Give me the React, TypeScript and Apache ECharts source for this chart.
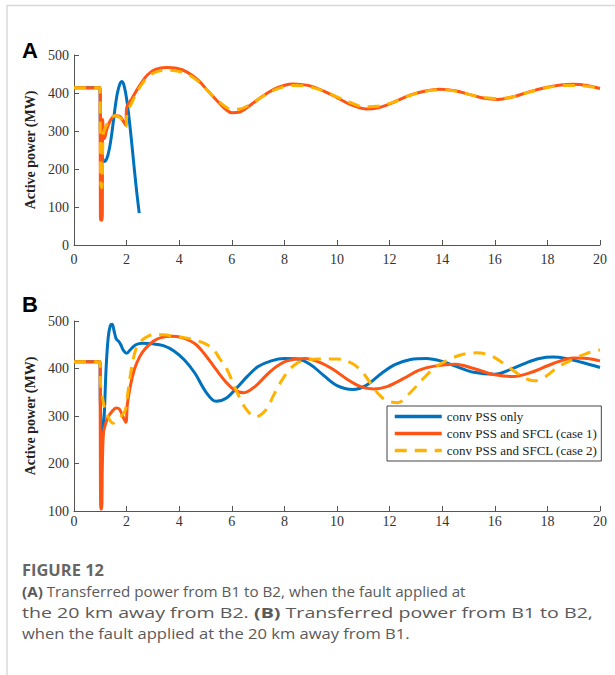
import React, { useEffect, useRef } from "react";
import * as echarts from "echarts";

// ---------- data ----------
const seriesNames = ["conv PSS only", "conv PSS and SFCL (case 1)", "conv PSS and SFCL (case 2)"];
const xTicks = [0, 2, 4, 6, 8, 10, 12, 14, 16, 18, 20];

const aBlue: number[][] = [
  [0, 414], [0.99, 414], [1.0, 300], [1.03, 240], [1.1, 225], [1.15, 220], [1.25, 228], [1.35, 255],
  [1.45, 300], [1.55, 355], [1.65, 400], [1.75, 425], [1.82, 430], [1.9, 420], [2.0, 385], [2.1, 330],
  [2.2, 265], [2.3, 195], [2.4, 130], [2.48, 84],
];
const aOrange: number[][] = [
  [0, 414], [0.99, 414], [1.0, 200], [1.01, 66], [1.07, 66], [1.09, 330], [1.12, 290], [1.15, 280],
  [1.25, 305], [1.4, 330], [1.6, 340], [1.75, 338], [1.88, 325], [1.97, 315], [2.0, 360], [2.2, 385],
  [2.5, 420], [2.8, 448], [3.1, 462], [3.5, 467], [3.9, 465], [4.3, 455], [4.7, 435], [5.1, 405],
  [5.5, 375], [5.8, 355], [6.0, 348], [6.3, 350], [6.7, 368], [7.2, 393], [7.7, 413], [8.3, 424],
  [8.9, 420], [9.5, 405], [10.0, 388], [10.5, 370], [11.1, 358], [11.6, 362], [12.2, 377], [12.8, 395],
  [13.4, 406], [13.9, 410], [14.5, 406], [15.1, 395], [15.6, 386], [16.1, 383], [16.7, 390], [17.3, 403],
  [17.9, 414], [18.5, 421], [19.0, 423], [19.5, 420], [20, 412],
];
const aYellow: number[][] = [
  [0, 414], [0.99, 414], [1.0, 300], [1.02, 160], [1.06, 150], [1.09, 250], [1.12, 295], [1.2, 310],
  [1.35, 330], [1.55, 340], [1.75, 335], [1.9, 320], [1.97, 310], [2.02, 345], [2.2, 375], [2.5, 415],
  [2.8, 442], [3.1, 455], [3.5, 460], [3.9, 458], [4.3, 450], [4.7, 432], [5.1, 405], [5.5, 378],
  [5.8, 362], [6.0, 357], [6.3, 358], [6.7, 370], [7.2, 392], [7.7, 410], [8.3, 420], [8.9, 417],
  [9.5, 405], [10.0, 390], [10.5, 375], [11.0, 364], [11.5, 365], [12.2, 377], [12.8, 394], [13.4, 405],
  [13.9, 408], [14.5, 405], [15.1, 395], [15.6, 388], [16.1, 385], [16.7, 390], [17.3, 402], [17.9, 413],
  [18.5, 419], [19.0, 420], [19.5, 418], [20, 413],
];

const bBlue: number[][] = [
  [0, 414], [0.99, 414], [1.0, 330], [1.05, 270], [1.1, 260], [1.15, 300], [1.22, 400], [1.3, 465],
  [1.38, 490], [1.45, 493], [1.52, 480], [1.6, 463], [1.7, 457], [1.78, 450], [1.88, 438], [2.0, 432],
  [2.15, 440], [2.35, 450], [2.6, 453], [3.0, 452], [3.4, 448], [3.8, 437], [4.2, 418], [4.6, 390],
  [5.0, 352], [5.4, 331], [5.8, 338], [6.2, 360], [6.6, 384], [7.0, 404], [7.5, 416], [8.0, 421],
  [8.5, 420], [9.0, 408], [9.5, 385], [10.0, 364], [10.6, 356], [11.1, 364], [11.7, 390], [12.2, 408],
  [12.8, 419], [13.4, 421], [14.0, 415], [14.6, 403], [15.2, 392], [16.0, 388], [16.6, 398], [17.2, 412],
  [17.7, 421], [18.2, 424], [18.7, 421], [19.3, 413], [20, 402],
];
const bOrange: number[][] = [
  [0, 414], [0.99, 414], [1.0, 250], [1.02, 104], [1.05, 104], [1.08, 200], [1.12, 265], [1.18, 280],
  [1.3, 298], [1.45, 310], [1.6, 317], [1.72, 315], [1.85, 300], [1.97, 287], [2.03, 325], [2.15, 365],
  [2.3, 399], [2.5, 425], [2.7, 441], [3.0, 457], [3.3, 465], [3.7, 468], [4.1, 465], [4.6, 452],
  [5.0, 428], [5.4, 398], [5.8, 370], [6.1, 355], [6.45, 349], [6.9, 363], [7.3, 385], [7.7, 404],
  [8.1, 416], [8.8, 421], [9.3, 414], [9.8, 400], [10.4, 377], [10.9, 362], [11.4, 357], [11.9, 362],
  [12.5, 378], [13.1, 396], [13.7, 405], [14.5, 409], [15.2, 400], [15.9, 388], [16.7, 383], [17.4, 392],
  [18.2, 410], [19.0, 422], [19.5, 421], [20, 416],
];
const bYellow: number[][] = [
  [0, 414], [0.99, 414], [1.0, 380], [1.03, 355], [1.08, 340], [1.15, 320], [1.3, 298], [1.48, 285],
  [1.65, 292], [1.8, 300], [1.95, 312], [2.05, 350], [2.2, 405], [2.35, 440], [2.5, 455], [2.75, 466],
  [3.05, 472], [3.4, 471], [3.8, 468], [4.2, 465], [4.6, 460], [5.0, 452], [5.3, 440], [5.55, 420],
  [5.8, 400], [6.2, 350], [6.5, 318], [6.9, 298], [7.3, 313], [7.6, 345], [7.9, 375], [8.2, 398],
  [8.5, 412], [8.9, 418], [9.3, 420], [10.0, 420], [10.6, 410], [11.0, 390], [11.3, 367], [11.6, 345],
  [11.9, 332], [12.3, 328], [12.8, 350], [13.3, 380], [13.8, 405], [14.3, 420], [14.8, 430], [15.3, 433],
  [15.8, 428], [16.3, 412], [16.8, 392], [17.2, 378], [17.5, 374], [17.9, 382], [18.4, 403], [19.0, 420],
  [19.5, 432], [20, 439],
];

const captionTitle = "FIGURE 12";
const captionLine1 = ["(A)", " Transferred power from B1 to B2, when the fault applied at"];
const captionLine2 = ["the 20 km away from B2. ", "(B)", " Transferred power from B1 to B2,"];
const captionLine3 = "when the fault applied at the 20 km away from B1.";

// ---------- style ----------
const BLUE = "#0072BD";
const ORANGE = "#FF5414";
const YELLOW = "#FFB300";
const SERIF = "'Liberation Serif', 'Times New Roman', serif";
const SANS = "'Open Sans', 'Noto Sans', sans-serif";
const CAP_COLOR = "#5a5a5a";
const CAP_SIZE = 15;

let ctx: CanvasRenderingContext2D | null = null;
function measure(text: string, bold: boolean, size: number): number {
  if (!ctx) ctx = document.createElement("canvas").getContext("2d");
  if (!ctx) return text.length * size * 0.5;
  ctx.font = `${bold ? "bold " : ""}${size}px ${SANS}`;
  return ctx.measureText(text).width;
}

export default function App() {
  const ref = useRef<HTMLDivElement>(null);
  useEffect(() => {
    if (!ref.current) return;
    const chart = echarts.init(ref.current, null, { renderer: "svg" });

    const makeX = (gi: number, margin: number) => ({
      type: "value",
      gridIndex: gi,
      min: 0,
      max: 20,
      interval: 2,
      axisLine: { show: true, lineStyle: { color: "#555", width: 1 } },
      axisTick: { show: true, inside: true, length: 5, lineStyle: { color: "#555" } },
      axisLabel: { fontFamily: SERIF, fontSize: 14, color: "#333", margin,
        formatter: (v: number) => (xTicks.includes(v) ? String(v) : "") },
      splitLine: { show: false },
    });
    const makeY = (gi: number, min: number) => ({
      type: "value",
      gridIndex: gi,
      min,
      max: 500,
      interval: 100,
      name: "Active power (MW)",
      nameLocation: "middle",
      nameGap: 31,
      nameTextStyle: { fontFamily: SERIF, fontWeight: "bold", fontSize: 14, color: "#222" },
      axisLine: { show: true, lineStyle: { color: "#555", width: 1 } },
      axisTick: { show: true, inside: true, length: 5, lineStyle: { color: "#555" } },
      axisLabel: { fontFamily: SERIF, fontSize: 14, color: "#333", margin: 5 },
      splitLine: { show: false },
    });

    const mk = (name: string, data: number[][], color: string, idx: number, dashed: boolean) => ({
      type: "line",
      name,
      data,
      xAxisIndex: idx,
      yAxisIndex: idx,
      showSymbol: false,
      symbol: "none",
      smooth: 0.35,
      lineStyle: { color, width: 3, type: dashed ? [12, 8] : "solid" },
      itemStyle: { color },
      z: dashed ? 4 : 3,
    });

    // caption layout
    const w1 = measure(captionLine1[0], true, CAP_SIZE) + measure(captionLine1[1], false, CAP_SIZE);
    const w2 = measure(captionLine2[0], false, CAP_SIZE) + measure(captionLine2[1], true, CAP_SIZE) + measure(captionLine2[2], false, CAP_SIZE);
    const w3 = measure(captionLine3, false, CAP_SIZE);
    const wt = measure(captionTitle, true, 16);
    const capText = (text: string, y: number, sx: number, size = CAP_SIZE, weight = "normal", color = CAP_COLOR) => ({
      type: "text",
      x: 22,
      y,
      scaleX: sx,
      style: {
        text,
        fontFamily: SANS,
        fontSize: size,
        fontWeight: weight,
        fill: color,
        verticalAlign: "middle",
        align: "left",
        rich: { b: { fontWeight: "bold", fontFamily: SANS, fontSize: size, fill: CAP_COLOR } },
      },
    });

    chart.setOption({
      animation: false,
      backgroundColor: "#fff",
      grid: [
        { left: 74, right: 15, top: 55, height: 190 },
        { left: 74, right: 15, top: 321, height: 190 },
      ],
      xAxis: [makeX(0, 7), makeX(1, 3)],
      yAxis: [makeY(0, 0), makeY(1, 100)],
      legend: {
        data: seriesNames,
        orient: "vertical",
        left: 387,
        top: 406,
        itemWidth: 47,
        itemHeight: 14,
        itemGap: 4,
        padding: [4, 4, 4, 6],
        borderColor: "#444",
        borderWidth: 1,
        backgroundColor: "#fff",
        itemStyle: { opacity: 0 },
        lineStyle: { width: 3.5 },
        textStyle: { fontFamily: SERIF, fontSize: 13, color: "#222" },
        selectedMode: false,
      },
      series: [
        mk(seriesNames[0], aBlue, BLUE, 0, false),
        mk(seriesNames[1], aOrange, ORANGE, 0, false),
        mk(seriesNames[2], aYellow, YELLOW, 0, true),
        mk(seriesNames[0], bBlue, BLUE, 1, false),
        mk(seriesNames[1], bOrange, ORANGE, 1, false),
        mk(seriesNames[2], bYellow, YELLOW, 1, true),
      ],
      graphic: [
        { type: "line", shape: { x1: 7, y1: 5.5, x2: 615, y2: 5.5 }, style: { stroke: "#d8d8d8", lineWidth: 1.5 } },
        { type: "line", shape: { x1: 7, y1: 5, x2: 7, y2: 675 }, style: { stroke: "#d8d8d8", lineWidth: 1.5 } },
        { type: "text", x: 22, y: 50, style: { text: "A", fontFamily: "'Liberation Sans', Arial, sans-serif", fontWeight: "bold", fontSize: 22, fill: "#000", verticalAlign: "middle" } },
        { type: "text", x: 22, y: 304, style: { text: "B", fontFamily: "'Liberation Sans', Arial, sans-serif", fontWeight: "bold", fontSize: 22, fill: "#000", verticalAlign: "middle" } },
        capText(captionTitle, 570, 82 / wt, 16, "bold", "#666"),
        capText(`{b|${captionLine1[0]}}${captionLine1[1]}`, 591, 444 / w1),
        capText(`${captionLine2[0]}{b|${captionLine2[1]}}${captionLine2[2]}`, 612, 571 / w2),
        capText(captionLine3, 633, 388 / w3),
      ],
    });
    return () => chart.dispose();
  }, []);
  return <div ref={ref} style={{ position: "absolute", left: 0, top: 0, width: 615, height: 675, background: "#fff" }} />;
}
